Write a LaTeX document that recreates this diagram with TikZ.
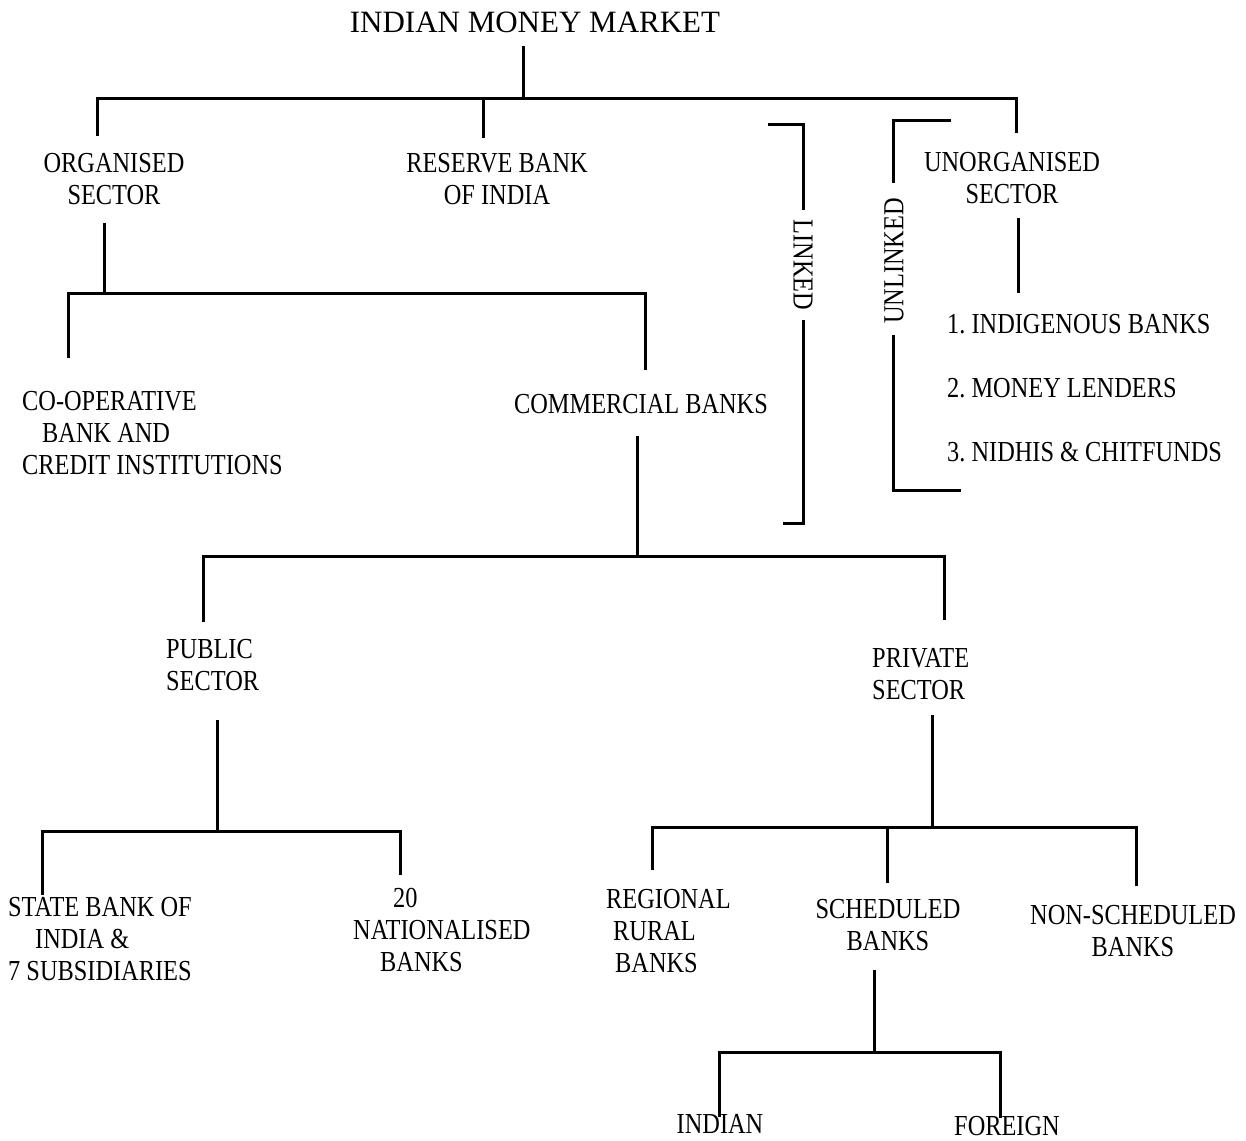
\documentclass[tikz,border=0pt]{standalone}
\usepackage{fontspec}
\setmainfont{Liberation Serif}
\newfontfamily\bodyfont[FakeStretch=0.84]{Liberation Serif}
\frenchspacing
\begin{document}
\begin{tikzpicture}[x=1pt,y=-1pt,
  bar/.style={line width=3pt},
  lbl/.style={inner sep=0pt, anchor=base, font=\bodyfont\fontsize{29}{32}\selectfont},
  lblL/.style={lbl, anchor=base west, align=left},
  lblC/.style={lbl, align=center},
  vlbl/.style={inner sep=0pt, font=\bodyfont\fontsize{29}{32}\selectfont}]
\useasboundingbox (0,0) rectangle (1246,1140);

% ---- labels (base = baseline of the last line) ----
\node[inner sep=0pt, anchor=base, font=\fontsize{31}{36}\selectfont] (title) at (535,33) {INDIAN MONEY MARKET};
\node[lblC] (org) at (114,204) {ORGANISED\\SECTOR};
\node[lblC] (rbi) at (497,204) {RESERVE BANK\\OF INDIA};
\node[lblC] (unorg) at (1012,203) {UNORGANISED\\SECTOR};
\node[lblL] (coop) at (22,474) {CO-OPERATIVE\\\hspace*{20pt}BANK AND\\CREDIT INSTITUTIONS};
\node[lblC] (cb) at (641,413) {COMMERCIAL BANKS};
\node[lblL] (pub) at (166,690) {PUBLIC\\SECTOR};
\node[lblL] (priv) at (872,699) {PRIVATE\\SECTOR};
\node[lblL] (sbi) at (8,980) {STATE BANK OF\\\hspace*{27pt}INDIA \&\\7 SUBSIDIARIES};
\node[lblL] (nat) at (353,971) {\hspace*{40pt}20\\NATIONALISED\\\hspace*{27pt}BANKS};
\node[lblL] (rrb) at (606,972) {REGIONAL\\\hspace*{7pt}RURAL\\\hspace*{9pt}BANKS};
\node[lblC] (sched) at (888,950) {SCHEDULED\\BANKS};
\node[lblC] (nonsched) at (1133,956) {NON-SCHEDULED\\BANKS};
\node[lblC] (indian) at (720,1133) {INDIAN};
\node[lblC] (foreign) at (1007,1135) {FOREIGN};
\node[lblL] (l1) at (947,333) {1. INDIGENOUS BANKS};
\node[lblL] (l2) at (947,397) {2. MONEY LENDERS};
\node[lblL] (l3) at (947,461) {3. NIDHIS \& CHITFUNDS};
\node[vlbl, rotate=-90] (linked) at (803,265) {LINKED};
\node[vlbl, rotate=90] (unlinked) at (894,261) {UNLINKED};

% ---- connector points ----
\coordinate (tTop) at (523,46);  \coordinate (tJ) at (523,98);
\coordinate (b1L) at (97,98);    \coordinate (b1R) at (1016,98);
\coordinate (orgIn) at (97,136);
\coordinate (rbiJ) at (483,98);  \coordinate (rbiIn) at (483,138);
\coordinate (unIn) at (1016,133);

\coordinate (orgOut) at (104,223); \coordinate (orgJ) at (104,293);
\coordinate (b2L) at (68,293);     \coordinate (b2R) at (645,293);
\coordinate (coopIn) at (68,358);  \coordinate (cbIn) at (645,370);

\coordinate (cbOut) at (637,436);  \coordinate (cbJ) at (637,556);
\coordinate (b3L) at (203,556);    \coordinate (b3R) at (944,556);
\coordinate (pubIn) at (203,622);  \coordinate (privIn) at (944,620);

\coordinate (pubOut) at (217,720); \coordinate (pubJ) at (217,831);
\coordinate (b4L) at (42,831);     \coordinate (b4R) at (400,831);
\coordinate (sbiIn) at (42,895);   \coordinate (natIn) at (400,875);

\coordinate (privOut) at (932,715); \coordinate (privJ) at (932,827);
\coordinate (b5L) at (652,827);     \coordinate (b5R) at (1136,827);
\coordinate (rrbIn) at (652,870);
\coordinate (schJ) at (887,827);    \coordinate (schIn) at (887,883);
\coordinate (nsIn) at (1136,886);

\coordinate (schOut) at (874,970); \coordinate (schJ2) at (874,1052);
\coordinate (b6L) at (719,1052);   \coordinate (b6R) at (1000,1052);
\coordinate (indIn) at (719,1117); \coordinate (forIn) at (1000,1118);

\coordinate (unOut) at (1018,218); \coordinate (unEnd) at (1018,293);

\coordinate (lkA) at (768,124); \coordinate (lkB) at (803,124); \coordinate (lkC) at (803,210);
\coordinate (lkD) at (803,320); \coordinate (lkE) at (803,523); \coordinate (lkF) at (783,523);
\coordinate (ulA) at (951,120); \coordinate (ulB) at (893,120); \coordinate (ulC) at (893,183);
\coordinate (ulD) at (893,335); \coordinate (ulE) at (893,490); \coordinate (ulF) at (961,490);

% ---- connectors ----
\draw[bar] (tTop) -- (tJ);
\draw[bar] (orgIn) -- (b1L) -- (b1R) -- (unIn);
\draw[bar] (rbiJ) -- (rbiIn);

\draw[bar] (orgOut) -- (orgJ);
\draw[bar] (coopIn) -- (b2L) -- (b2R) -- (cbIn);

\draw[bar] (cbOut) -- (cbJ);
\draw[bar] (pubIn) -- (b3L) -- (b3R) -- (privIn);

\draw[bar] (pubOut) -- (pubJ);
\draw[bar] (sbiIn) -- (b4L) -- (b4R) -- (natIn);

\draw[bar] (privOut) -- (privJ);
\draw[bar] (rrbIn) -- (b5L) -- (b5R) -- (nsIn);
\draw[bar] (schJ) -- (schIn);

\draw[bar] (schOut) -- (schJ2);
\draw[bar] (indIn) -- (b6L) -- (b6R) -- (forIn);

\draw[bar] (unOut) -- (unEnd);

\draw[bar] (lkA) -- (lkB) -- (lkC);
\draw[bar] (lkD) -- (lkE) -- (lkF);
\draw[bar] (ulA) -- (ulB) -- (ulC);
\draw[bar] (ulD) -- (ulE) -- (ulF);
\end{tikzpicture}
\end{document}
